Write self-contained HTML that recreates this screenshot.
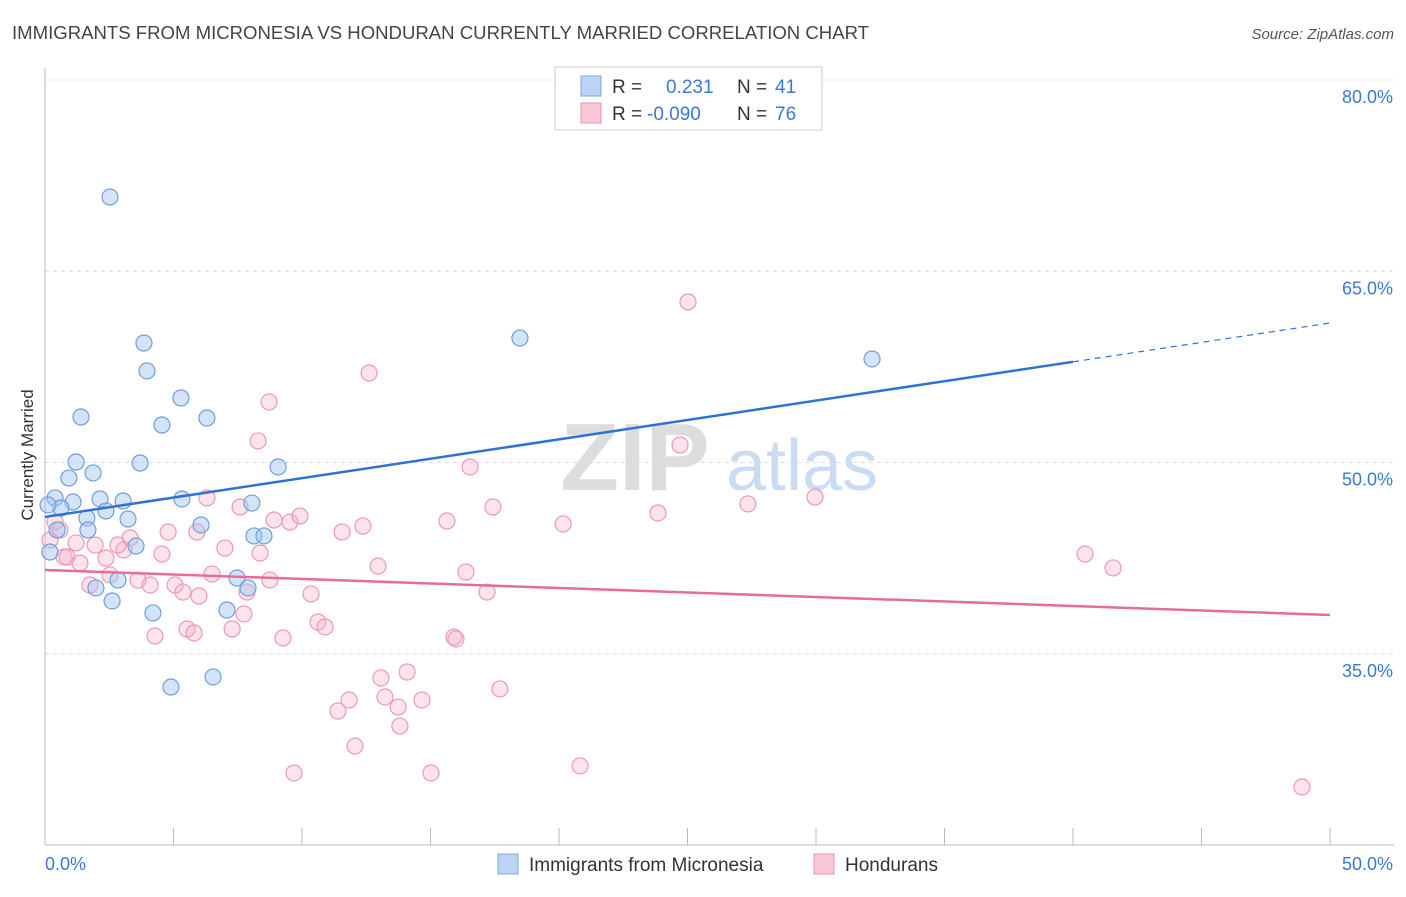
<!DOCTYPE html>
<html><head><meta charset="utf-8">
<style>
body{margin:0;background:#fff;font-family:"Liberation Sans",sans-serif;}
svg text{font-family:"Liberation Sans",sans-serif;}
</style></head>
<body>
<svg width="1406" height="892" viewBox="0 0 1406 892" xmlns="http://www.w3.org/2000/svg">
<text x="12" y="39" font-size="18" fill="#444" textLength="857" lengthAdjust="spacingAndGlyphs">IMMIGRANTS FROM MICRONESIA VS HONDURAN CURRENTLY MARRIED CORRELATION CHART</text>
<text x="1394" y="39" font-size="15" fill="#555" text-anchor="end" font-style="italic">Source: ZipAtlas.com</text>
<g id="grid"></g>
<g>
<text x="635" y="490" font-size="96" fill="#ddd" text-anchor="middle" font-family="Liberation Serif" font-weight="bold">ZIP</text>
<text x="802" y="490" font-size="72" fill="#c9dcf2" text-anchor="middle">atlas</text>
</g>
<g id="axes"></g>
<text transform="translate(33,455) rotate(-90)" font-size="17" fill="#333" text-anchor="middle">Currently Married</text>
<g id="pts"></g>
<g id="trend"></g>
<g>
<rect x="555" y="67" width="267" height="63" fill="#fff" stroke="#ccc"/>
<rect x="581" y="76" width="20" height="20" fill="#bcd4f4" stroke="#7aa8e0"/>
<rect x="581" y="103" width="20" height="20" fill="#f9c8d8" stroke="#e890ac"/>
<text x="612" y="93" font-size="19" fill="#333">R = </text>
<text x="666" y="93" font-size="19" fill="#3a78d8">0.231</text>
<text x="737" y="93" font-size="19" fill="#333">N = </text>
<text x="775" y="93" font-size="19" fill="#3a78d8">41</text>
<text x="612" y="120" font-size="19" fill="#333">R = </text>
<text x="647" y="120" font-size="19" fill="#3a78d8">-0.090</text>
<text x="737" y="120" font-size="19" fill="#333">N = </text>
<text x="775" y="120" font-size="19" fill="#3a78d8">76</text>
</g>
<g>
<rect x="498" y="854" width="20" height="20" fill="#bcd4f4" stroke="#7aa8e0"/>
<text x="529" y="871" font-size="19" fill="#333">Immigrants from Micronesia</text>
<rect x="814" y="854" width="20" height="20" fill="#f9c8d8" stroke="#e890ac"/>
<text x="845" y="871" font-size="19" fill="#333">Hondurans</text>
</g>
</svg>
<script>
const yTicks=[35,50,65,80];
const yTickLabels=["35.0%","50.0%","65.0%","80.0%"];
const xTicks=[0,5,10,15,20,25,30,35,40,45,50];
const blueX=[2.53,3.85,3.97,1.40,4.55,5.29,6.30,1.21,3.70,1.87,0.93,0.39,1.09,2.14,3.04,5.33,8.05,2.37,3.23,1.63,0.62,6.07,8.13,8.52,9.07,18.48,32.18,0.19,3.54,2.84,1.98,2.61,4.20,7.47,7.90,7.08,4.90,6.54,0.47,1.67,0.12];
const blueY=[70.82,59.37,57.18,53.57,52.94,55.06,53.49,50.04,49.96,49.18,48.78,47.22,46.90,47.14,46.98,47.14,46.82,46.20,45.57,45.65,46.43,45.10,44.24,44.24,49.65,59.76,58.12,42.98,43.45,40.78,40.16,39.14,38.20,40.94,40.16,38.43,32.39,33.18,44.71,44.71,46.67];
const pinkX=[25.02,12.61,8.72,8.29,24.71,16.54,6.30,7.59,17.43,29.96,27.35,23.85,8.91,9.53,9.92,12.37,15.64,20.16,11.56,5.91,4.79,3.31,4.55,7.00,8.37,3.07,1.95,2.84,1.21,0.74,0.86,1.36,2.37,2.53,3.62,4.09,5.06,5.37,5.99,6.50,7.86,7.74,10.35,12.96,16.38,17.20,40.47,41.56,4.28,5.53,5.80,7.28,9.26,10.62,10.90,15.91,15.99,14.09,13.07,11.83,13.23,13.74,11.40,14.67,17.70,13.81,12.06,9.69,15.02,20.82,48.91,0.39,0.19,0.58,1.75,8.75];
const pinkY=[62.59,57.02,54.75,51.69,51.37,49.65,47.22,46.51,46.51,47.29,46.75,46.04,45.49,45.33,45.80,45.02,45.41,45.18,44.55,44.55,44.55,44.08,42.82,43.29,42.90,43.14,43.53,43.53,43.69,42.59,42.59,42.12,42.51,41.18,40.78,40.39,40.39,39.84,39.53,41.25,39.84,38.12,39.69,41.88,41.41,39.84,42.82,41.73,36.39,36.94,36.63,36.94,36.24,37.49,37.10,36.31,36.16,33.57,33.10,31.37,31.61,30.82,30.51,31.37,32.24,29.33,27.76,25.65,25.65,26.20,24.55,45.33,43.92,44.71,40.39,40.78];
const blueTrend=[45.73,60.94];
const pinkTrend=[41.57,38.04];
const NS="http://www.w3.org/2000/svg";
const X=v=>45+v/50*1285, Y=v=>80+(80-v)*12.75;
function mk(t,a,p){const e=document.createElementNS(NS,t);for(const k in a)e.setAttribute(k,a[k]);p.appendChild(e);return e;}
const grid=document.getElementById('grid'),axes=document.getElementById('axes');
yTicks.forEach((t,i)=>{
 const l=mk('line',{x1:45,x2:1394,y1:Y(t),y2:Y(t),stroke:'#ddd','stroke-dasharray':'4,4'},grid);
 
 
 const tx=mk('text',{x:1393,y:Y(t)+23,'font-size':18,fill:'#3a78d8','text-anchor':'end'},axes);
 tx.textContent=yTickLabels[i];
 
 
});
mk('line',{x1:45,x2:45,y1:68,y2:845,stroke:'#bbb'},axes);
mk('line',{x1:45,x2:1394,y1:845,y2:845,stroke:'#bbb'},axes);
xTicks.forEach(t=>{const l=mk('line',{x1:X(t),x2:X(t),y1:828,y2:845,stroke:'#bbb'},axes);
 
 });
const x0=mk('text',{x:45,y:870,'font-size':18,fill:'#3a78d8'},axes);x0.textContent='0.0%';


const x1=mk('text',{x:1393,y:870,'font-size':18,fill:'#3a78d8','text-anchor':'end'},axes);x1.textContent='50.0%';


const pts=document.getElementById('pts');
pinkX.forEach((v,i)=>{const c=mk('circle',{cx:X(v),cy:Y(pinkY[i]),r:8,fill:'rgba(245,175,200,0.35)',stroke:'#eb9ab5','stroke-width':1.2},pts);
 
 });
blueX.forEach((v,i)=>{const c=mk('circle',{cx:X(v),cy:Y(blueY[i]),r:8,fill:'rgba(160,195,240,0.45)',stroke:'#6f9edc','stroke-width':1.2},pts);
 
 });
const tr=document.getElementById('trend');
const by=x=>blueTrend[0]+(blueTrend[1]-blueTrend[0])*x/50;
let l=mk('line',{x1:X(0),y1:Y(by(0)),x2:X(40),y2:Y(by(40)),stroke:'#2f72d6','stroke-width':2.5},tr);


l=mk('line',{x1:X(40),y1:Y(by(40)),x2:X(50),y2:Y(by(50)),stroke:'#2f72d6','stroke-width':1.2,'stroke-dasharray':'6,5'},tr);


l=mk('line',{x1:X(0),y1:Y(pinkTrend[0]),x2:X(50),y2:Y(pinkTrend[1]),stroke:'#e66d98','stroke-width':2.5},tr);


</script>
</body></html>
